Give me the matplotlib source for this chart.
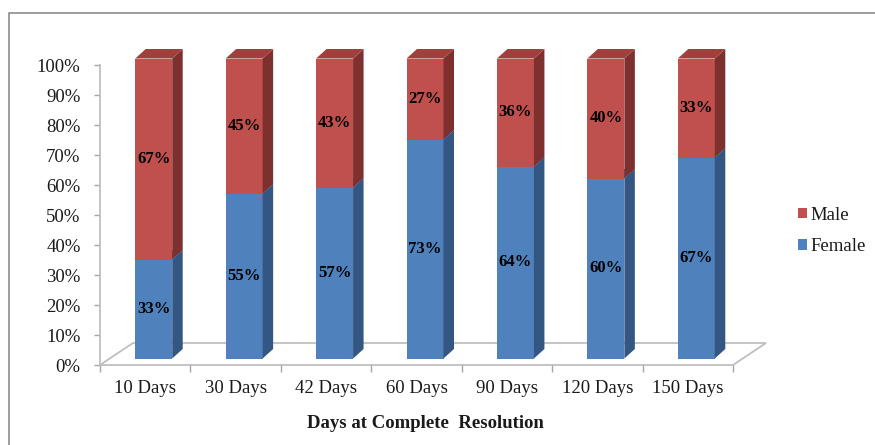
import matplotlib
matplotlib.use("Agg")
import matplotlib.pyplot as plt
from matplotlib.patches import Polygon, Patch
from matplotlib.lines import Line2D
from matplotlib.ticker import FixedLocator, NullFormatter

plt.rcParams["font.family"] = ["Liberation Serif", "DejaVu Serif"]

categories = ["10 Days", "30 Days", "42 Days", "60 Days", "90 Days", "120 Days", "150 Days"]
female = [33, 55, 57, 73, 64, 60, 67]
male = [67, 45, 43, 27, 36, 40, 33]
series = [("Female", female), ("Male", male)]

# face colours: front, side, top
colors = {
    "Female": ("#4F81BD", "#335683", "#4672A8"),
    "Male": ("#C0504D", "#7D302E", "#A0403D"),
}

W, H = 875, 445
fig = plt.figure(figsize=(W / 100, H / 100), dpi=100)
ax = fig.add_axes([100 / W, 80 / H, 633 / W, 300 / H])
n = len(categories)
ax.set_xlim(0, n)
ax.set_ylim(0, 100)

# oblique projection offsets (data units)
px_x = 633 / n          # pixels per category
px_y = 3.0              # pixels per percent
FLOOR_DX, FLOOR_DY = 33 / px_x, 22 / px_y
BAR_SX, BAR_SY = 8.5 / px_x, 6.5 / px_y
BAR_W = 37 / px_x
BAR_DX, BAR_DY = 10.5 / px_x, 9.5 / px_y

floor = Polygon([(0, 0), (n, 0), (n + FLOOR_DX, FLOOR_DY), (FLOOR_DX, FLOOR_DY)],
                closed=True, facecolor="white", edgecolor="#BFBFBF", lw=1.3,
                clip_on=False, zorder=1)
ax.add_patch(floor)

for i, cat in enumerate(categories):
    c = i + 0.5 + BAR_SX
    x0, x1 = c - BAR_W / 2, c + BAR_W / 2
    lo = 0
    for name, vals in series:
        v = vals[i]
        hi = lo + v
        y0, y1 = BAR_SY + lo, BAR_SY + hi
        fc, sc, tc = colors[name]
        front = Polygon([(x0, y0), (x1, y0), (x1, y1), (x0, y1)], closed=True,
                        facecolor=fc, edgecolor="none", clip_on=False, zorder=3)
        side = Polygon([(x1, y0), (x1 + BAR_DX, y0 + BAR_DY), (x1 + BAR_DX, y1 + BAR_DY), (x1, y1)],
                       closed=True, facecolor=sc, edgecolor="none", clip_on=False, zorder=3)
        top = Polygon([(x0, y1), (x1, y1), (x1 + BAR_DX, y1 + BAR_DY), (x0 + BAR_DX, y1 + BAR_DY)],
                      closed=True, facecolor=tc, edgecolor="none", clip_on=False, zorder=3)
        for p in (front, side, top):
            ax.add_patch(p)
        ax.text(c, (y0 + y1) / 2, f"{v}%", ha="center", va="center",
                fontsize=12, fontweight="bold", color="black", zorder=5)
        lo = hi

# axes styling
for s in ("top", "right", "bottom"):
    ax.spines[s].set_visible(False)
ax.spines["left"].set_color("#BFBFBF")
ax.spines["left"].set_linewidth(1.3)

ax.set_yticks(range(0, 101, 10))
ax.set_yticklabels([f"{t}%" for t in range(0, 101, 10)])
ax.tick_params(axis="y", direction="out", length=4, width=1, color="#A6A6A6",
               pad=10, labelsize=13.5, labelcolor="#1A1A1A")

ax.xaxis.set_major_locator(FixedLocator(range(n + 1)))
ax.xaxis.set_major_formatter(NullFormatter())
ax.xaxis.set_minor_locator(FixedLocator([i + 0.5 for i in range(n)]))
ax.set_xticklabels(categories, minor=True)
ax.tick_params(axis="x", which="major", direction="out", length=5, width=1, color="#A6A6A6")
ax.tick_params(axis="x", which="minor", length=0, pad=11, labelsize=13.5, labelcolor="#1A1A1A")

fig.text(425 / W, 1 - 423 / H, "Days at Complete  Resolution", ha="center", va="center",
         fontsize=13.5, fontweight="bold", color="#1A1A1A")

handles = [Patch(facecolor=colors["Male"][0], label="Male"),
           Patch(facecolor=colors["Female"][0], label="Female")]
fig.legend(handles=handles, loc="center left", bbox_to_anchor=(798 / W, 1 - 231 / H),
           frameon=False, fontsize=13.5, handlelength=0.5, handleheight=0.5,
           handletextpad=0.18, labelspacing=0.78, borderpad=0, borderaxespad=0,
           labelcolor="#1A1A1A")

# chart area border
fig.add_artist(Line2D([8.5 / W, 8.5 / W, 1], [0, 1 - 12.5 / H, 1 - 12.5 / H],
                      transform=fig.transFigure, color="#8C8C8C", lw=1.2))

fig.savefig("out.png", dpi=100)
